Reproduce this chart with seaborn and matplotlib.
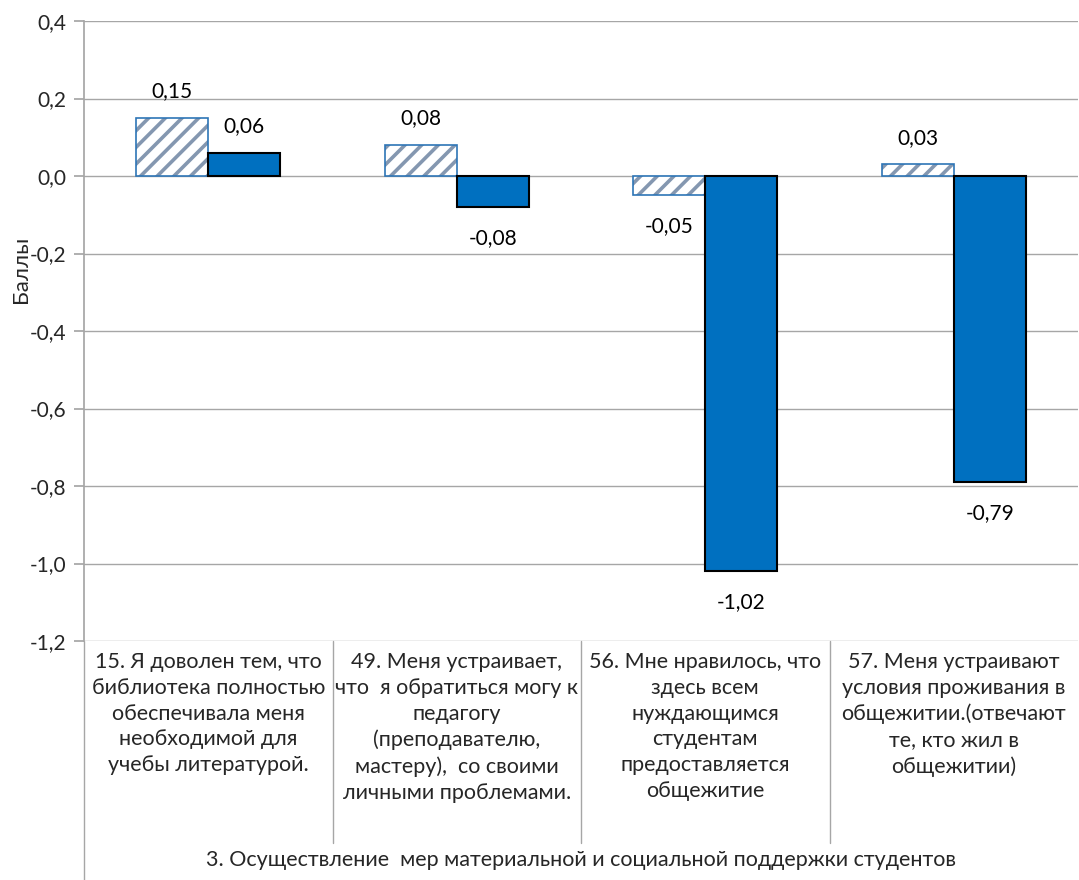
import numpy as np
import pandas as pd
import seaborn as sns
import matplotlib.pyplot as plt
from matplotlib.colors import to_rgba
from matplotlib.ticker import FuncFormatter

# data
categories = [
    "15. Я доволен тем, что\nбиблиотека полностью\nобеспечивала меня\nнеобходимой для\nучебы литературой.",
    "49. Меня устраивает,\nчто  я обратиться могу к\nпедагогу\n(преподавателю,\nмастеру),  со своими\nличными проблемами.",
    "56. Мне нравилось, что\nздесь всем\nнуждающимся\nстудентам\nпредоставляется\nобщежитие",
    "57. Меня устраивают\nусловия проживания в\nобщежитии.(отвечают\nте, кто жил в\nобщежитии)",
]
series_names = ["Ряд 1", "Ряд 2"]
values_1 = [0.15, 0.08, -0.05, 0.03]
values_2 = [0.06, -0.08, -1.02, -0.79]
group_label = "3. Осуществление  мер материальной и социальной поддержки студентов"
y_label = "Баллы"
y_ticks = [0.4, 0.2, 0.0, -0.2, -0.4, -0.6, -0.8, -1.0, -1.2]

df = pd.DataFrame({
    "cat": categories * 2,
    "series": [series_names[0]] * 4 + [series_names[1]] * 4,
    "value": values_1 + values_2,
})

sns.set_theme(style="white")
plt.rcParams['font.family'] = ['Lato', 'DejaVu Sans']
plt.rcParams['hatch.linewidth'] = 2.6
FS = 15
FS_CAT = 15.5

fig = plt.figure(figsize=(10.79, 8.8), dpi=100)
W, H = 1079, 880
ax = fig.add_axes([84 / W, (H - 641) / H, (1078 - 84) / W, (641 - 21) / H])

sns.barplot(data=df, x="cat", y="value", hue="series", order=categories,
            palette=["white", "#0070C0"], width=0.58, legend=False,
            saturation=1, ax=ax, zorder=3)

# styling of the bars
for p in ax.containers[0]:
    p.set_hatch("//")
    p.set_edgecolor("#2E75B6")
    p.set_linewidth(1.2)
    p._hatch_color = to_rgba("#8497B0")
for p in ax.containers[1]:
    p.set_edgecolor("black")
    p.set_linewidth(1.5)

fmt = lambda v: f"{v:.2f}".replace(".", ",")
for cont, vals in zip(ax.containers, [values_1, values_2]):
    for bar, v in zip(cont, vals):
        cx = bar.get_x() + bar.get_width() / 2
        ax.annotate(fmt(v), (cx, v), xytext=(0, 12 if v >= 0 else -15),
                    textcoords="offset points", ha="center",
                    va="bottom" if v >= 0 else "top", fontsize=FS, color="black")

# axes
ax.set_xlim(-0.5, len(categories) - 0.5)
ax.set_ylim(-1.2, 0.4)
ax.set_yticks(y_ticks)
ax.yaxis.set_major_formatter(FuncFormatter(lambda v, _: f"{v:.1f}".replace(".", ",").replace("-0,0", "0,0")))
ax.yaxis.grid(True, color="#A6A6A6", lw=1)
ax.set_axisbelow(True)
for s in ["top", "right", "bottom"]:
    ax.spines[s].set_visible(False)
ax.spines["left"].set_color("#A6A6A6")
ax.tick_params(axis="y", length=7, color="#A6A6A6", direction="out", labelsize=FS, pad=6, left=True)
ax.tick_params(axis="x", length=0, pad=8)
ax.set_xticks(range(len(categories)))
ax.set_xticklabels(categories, fontsize=FS_CAT, linespacing=1.36)
ax.set_xlabel("")
ax.set_ylabel(y_label, fontsize=16)
ax.yaxis.set_label_coords(-0.053, 0.6)

# category separators and outer axis line
xt = ax.get_xaxis_transform()
for i in range(1, len(categories)):
    ax.plot([i - 0.5, i - 0.5], [0, -0.325], transform=xt, color="#A6A6A6", lw=1, clip_on=False)
ax.plot([-0.5, -0.5], [0, -0.4], transform=xt, color="#A6A6A6", lw=1, clip_on=False)

ax.text(0.5, -(860 - 641) / 620, group_label, transform=ax.transAxes,
        ha="center", va="center", fontsize=FS_CAT)

fig.savefig("out.png", dpi=100)
